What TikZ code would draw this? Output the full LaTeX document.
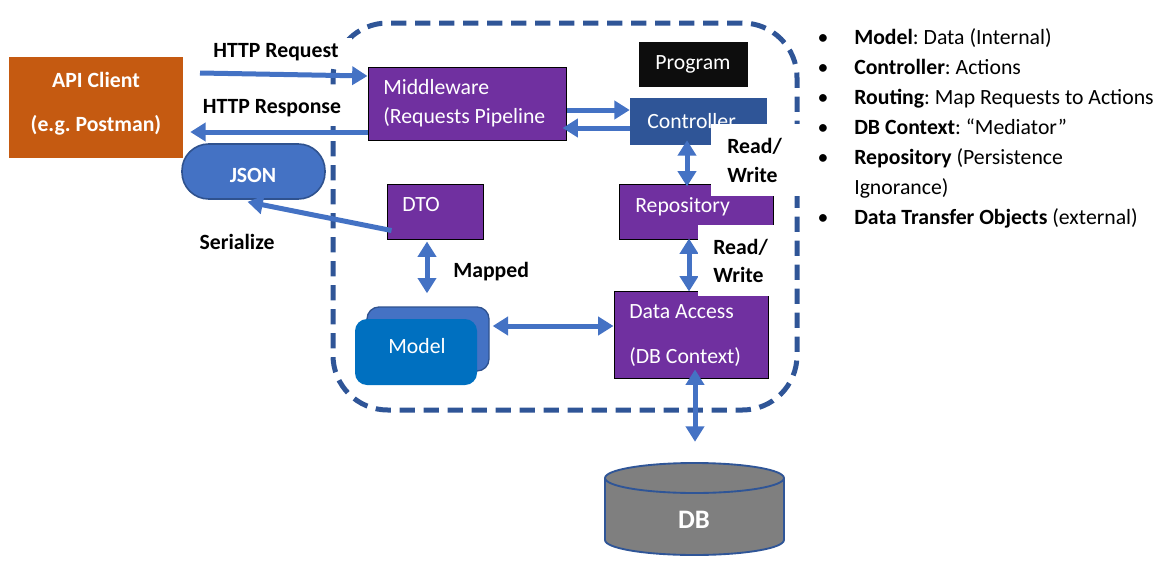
\documentclass[tikz,border=0pt]{standalone}
\usepackage{fontspec}
\setmainfont{Carlito}
\usetikzlibrary{arrows.meta,fit,calc}
\definecolor{purp}{HTML}{7030A0}
\definecolor{orng}{HTML}{C55A11}
\definecolor{ctrlblue}{HTML}{2F5597}
\definecolor{dashblue}{HTML}{2F5597}
\definecolor{arrowblue}{HTML}{4472C4}
\definecolor{jsonblue}{HTML}{4472C4}
\definecolor{jsonedge}{HTML}{2F528F}
\definecolor{modelfront}{HTML}{0070C0}
\definecolor{progblack}{HTML}{0D0D0D}
\definecolor{dbgray}{HTML}{7F7F7F}
\newcommand{\myfs}{\fontsize{16.3}{22.5}\selectfont}
\frenchspacing
\begin{document}
\begin{tikzpicture}[x=0.75pt,y=-0.75pt,
  box/.style={inner sep=0pt, draw=black, line width=0.75pt, fill=purp},
  plain/.style={inner sep=0pt},
  wt/.style={inner sep=0pt, anchor=base west, text=white, font=\myfs},
  wtc/.style={inner sep=0pt, anchor=base, text=white, font=\myfs},
  wtb/.style={inner sep=0pt, anchor=base, text=white, font=\myfs\bfseries},
  lbl/.style={inner sep=0pt, anchor=base, font=\myfs\bfseries},
  lblw/.style={inner sep=0pt, anchor=base west, font=\myfs\bfseries},
  bul/.style={inner sep=0pt, anchor=base, font=\myfs},
  itm/.style={inner sep=0pt, anchor=base west, font=\myfs},
  arr/.style={line width=3.75pt, draw=arrowblue, -{Triangle[length=11.5pt,width=13.5pt]}},
  darr/.style={line width=3.75pt, draw=arrowblue, {Triangle[length=11.5pt,width=13.5pt]}-{Triangle[length=11.5pt,width=13.5pt]}},
]
\useasboundingbox (0,0) rectangle (1167,578);

% application boundary
\node[plain, fit={(333,23)(797,410)}, draw=dashblue, line width=3.75pt,
  dash pattern=on 11.5pt off 6.5pt, rounded corners=41pt] (app) {};

% API client
\node[plain, fill=orng, fit={(9,57)(183,158)}] (api) {};
\node[wtb] (apit1) at (96,87) {API Client};
\node[wtb] (apit2) at (96,131) {(e.g. Postman)};

% JSON
\node[plain, fill=jsonblue, draw=jsonedge, line width=1.2pt, rounded corners=20pt,
  fit={(182,144)(325,199)}] (json) {};
\node[wtb] (jsont) at (253,182) {JSON};

% Middleware
\node[box, fit={(368,67)(566,140)}] (mw) {};
\node[wt] (mwt1) at (383,94) {Middleware};
\node[wt] (mwt2) at (383,123) {(Requests Pipeline};

% Program
\node[plain, fill=progblack, fit={(639,42)(748,87)}] (prog) {};
\node[wtc] (progt) at (693,69) {Program};

% Controller
\node[plain, fill=ctrlblue, fit={(630,98)(767,145)}] (ctrl) {};
\node[wt] (ctrlt) at (647,128) {Controller};

% DTO
\node[box, fit={(387,184)(483,239)}] (dto) {};
\node[wt] (dtot) at (402,211) {DTO};

% Repository
\node[box, fit={(619,184)(773,239)}] (repo) {};
\node[wt] (repot) at (635,212) {Repository};

% Model
\node[plain, fill=jsonblue, draw=jsonedge, line width=1pt, rounded corners=9pt,
  fit={(367,307)(489,371)}] (mback) {};
\node[plain, fill=modelfront, rounded corners=9pt, fit={(355,319)(477,385)}] (mfront) {};
\node[wtc] (modelt) at (417,353) {Model};

% Data access
\node[box, fit={(614,291)(768,378)}] (da) {};
\node[wt] (dat1) at (629,318) {Data Access};
\node[wt] (dat2) at (629,363) {(DB Context)};

% DB cylinder
\node[plain, fit={(605,463)(784,555)}] (db) {};
\fill[dbgray] (605,478) -- (605,540) arc[start angle=180, end angle=360, x radius=67.1pt, y radius=11.25pt]
  -- (784,478) arc[start angle=0, end angle=180, x radius=67.1pt, y radius=11.25pt] -- cycle;
\draw[ctrlblue, line width=1.4pt] (605,478) -- (605,540) arc[start angle=180, end angle=360, x radius=67.1pt, y radius=11.25pt]
  -- (784,478);
\draw[ctrlblue, line width=1.4pt] (694.5,478) ellipse[x radius=67.1pt, y radius=11.25pt];
\node[inner sep=0pt, anchor=base, text=white, font=\fontsize{20}{22}\selectfont\bfseries] (dbt) at (694,528) {DB};

% labels (white backgrounds hide the boundary line behind them)
\node[plain, fill=white, fit={(205,38)(352,68)}] (lreqbg) {};
\node[lbl] (lreq) at (276,57) {HTTP Request};
\node[plain, fill=white, fit={(195,86)(346,126)}] (lresbg) {};
\node[lbl] (lres) at (272,113) {HTTP Response};
\node[lbl] (lser) at (237,249) {Serialize};
\node[lblw] (lmap) at (453,277) {Mapped};

% arrows
\coordinate (reqstart) at (200,73);
\draw[arr] (reqstart) -- (mw.west |- 0,76);
\draw[arr] (mw.west |- 0,132) -- ($(api.east |- 0,132)+(7,0)$);
\draw[arr] (mw.east |- 0,110) -- (ctrl.west |- 0,110);
\draw[arr] (ctrl.west |- 0,128) -- ($(mw.east |- 0,128)+(-4,0)$);
\draw[darr] ($(687,0 |- ctrl.south)+(0,-5)$) -- ($(687,0 |- repo.north)+(0,3)$);
\draw[darr] ($(689,0 |- repo.south)+(0,-1)$) -- ($(689,0 |- da.north)+(0,1)$);
\draw[arr] ($(dto.south west)+(5,-9)$) -- ($(json.south)+(-6,2)$);
\draw[darr] ($(427,0 |- dto.south)+(0,2)$) -- ($(427,0 |- mback.north)+(0,-13)$);
\draw[darr] ($(mback.east |- 0,326)+(3,0)$) -- (da.west |- 0,326);
\draw[darr] ($(695,0 |- da.south)+(0,-9)$) -- ($(695,0 |- db.north)+(0,-21)$);

% Read/Write labels with white backgrounds
\node[plain, fill=white, fit={(711,124)(806,196)}] (rw1) {};
\node[lblw] (rw1a) at (727,153) {Read/};
\node[lblw] (rw1b) at (727,182) {Write};
\node[plain, fill=white, fit={(698,225)(790,296)}] (rw2) {};
\node[lblw] (rw2a) at (713,254) {Read/};
\node[lblw] (rw2b) at (713,282) {Write};

% bullet list
\node[bul] (d1) at (823,44) {\textbullet};
\node[itm] (i1) at (854,44) {\textbf{Model}: Data (Internal)};
\node[bul] (d2) at (823,74) {\textbullet};
\node[itm] (i2) at (854,74) {\textbf{Controller}: Actions};
\node[bul] (d3) at (823,104) {\textbullet};
\node[itm] (i3) at (854,104) {\textbf{Routing}: Map Requests to Actions};
\node[bul] (d4) at (823,134) {\textbullet};
\node[itm] (i4) at (854,134) {\textbf{DB Context}: “Mediator”};
\node[bul] (d5) at (823,164) {\textbullet};
\node[itm] (i5) at (854,164) {\textbf{Repository} (Persistence};
\node[itm] (i5b) at (854,194) {Ignorance)};
\node[bul] (d6) at (823,224) {\textbullet};
\node[itm] (i6) at (854,224) {\textbf{Data Transfer Objects} (external)};
\end{tikzpicture}
\end{document}
